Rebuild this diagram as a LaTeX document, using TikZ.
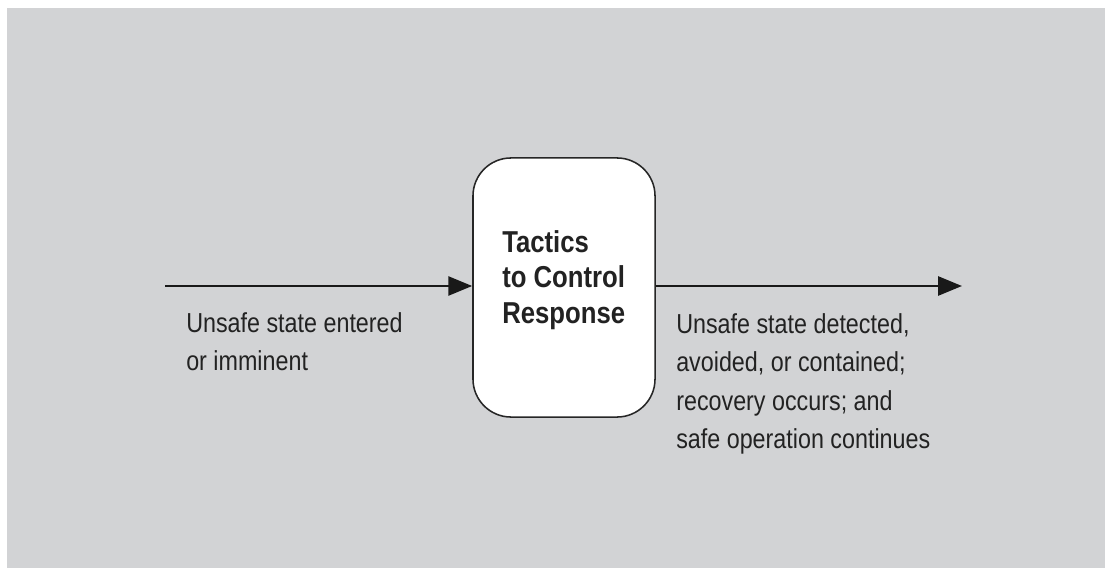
\documentclass[tikz,border=0pt]{standalone}
\usepackage{fontspec}
\setmainfont{Liberation Sans}[FakeStretch=0.85]
\usepackage{xcolor}
\usetikzlibrary{
  arrows.meta,
  positioning
}
\definecolor{panelgrey}{HTML}{D2D3D5}
\definecolor{inkgrey}{HTML}{222222}

\begin{document}
\begin{tikzpicture}[x=0.025cm,y=0.025cm,
  flow/.style={line width=1.9pt,draw=black!90,-{Triangle[length=17pt,width=13.5pt]}},
  tactic/.style={draw=black!85,line width=1.1pt,fill=white,rounded corners=0.95cm,
    minimum width=4.55cm,minimum height=6.475cm},
  title/.style={align=left,inner sep=0pt,anchor=north west,text=inkgrey,
    font=\bfseries\fontsize{21.5}{25.4}\selectfont},
  note/.style={align=left,inner sep=0pt,anchor=north west,text=inkgrey,
    font=\fontsize{19.5}{27.4}\selectfont}]
  % Panel
  \useasboundingbox (0,0) rectangle (1105,568);
  \fill[panelgrey] (7,0) rectangle (1105,560);

  % Control box
  \node[tactic] (ctrl) at (564,280.5) {};
  \node[title] (ctrltitle) at (502,338) {Tactics\\to Control\\Response};

  % In and out flows
  \coordinate (src) at (165,282);
  \coordinate (dst) at (962,282);
  \draw[flow] (src) -- (src -| ctrl.west);
  \draw[flow] (src -| ctrl.east) -- (dst);

  % Labels
  \node[note] (entered) at (186,256) {Unsafe state entered\\or imminent};
  \node[note] (contained) at (676,255) {Unsafe state detected,\\avoided, or contained;\\recovery occurs; and\\safe operation continues};
\end{tikzpicture}
\end{document}
